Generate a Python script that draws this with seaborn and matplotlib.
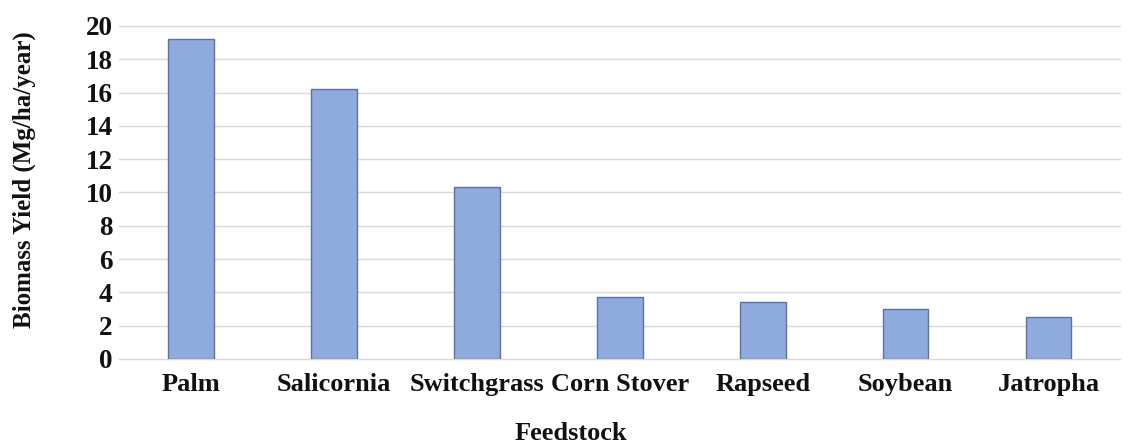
import matplotlib
matplotlib.use("Agg")
import matplotlib.pyplot as plt
import seaborn as sns
import pandas as pd

# Feedstock biomass yields (Mg/ha/year)
feedstocks = ["Palm", "Salicornia", "Switchgrass", "Corn Stover", "Rapseed", "Soybean", "Jatropha"]
yields = [19.2, 16.2, 10.3, 3.7, 3.4, 3.0, 2.5]
y_ticks = [0, 2, 4, 6, 8, 10, 12, 14, 16, 18, 20]

df = pd.DataFrame({"Feedstock": feedstocks, "Yield": yields})

sns.set_theme(style="white")
plt.rcParams["font.family"] = ["Liberation Serif", "DejaVu Serif"]

fig = plt.figure(figsize=(11.27, 4.47), dpi=100)
ax = fig.add_axes([0.106, 0.197, 0.8878, 0.745])

sns.barplot(data=df, x="Feedstock", y="Yield", order=feedstocks,
            color="#8FAADC", edgecolor="#5A72A0", linewidth=1.0,
            width=0.32, saturation=1, ax=ax)

ax.set_ylim(0, 20)
ax.set_yticks(y_ticks)
ax.set_axisbelow(True)
ax.yaxis.grid(True, color="#D9D9D9", linewidth=1.0)
ax.xaxis.grid(False)
for gl in ax.get_ygridlines():
    gl.set_clip_on(False)
for s in ax.spines.values():
    s.set_visible(False)

ax.tick_params(axis="y", length=0, pad=5, labelsize=19.5)
ax.tick_params(axis="x", length=0, pad=10, labelsize=19)
for lbl in ax.get_xticklabels() + ax.get_yticklabels():
    lbl.set_fontweight("bold")
    lbl.set_color("#111111")

ax.set_xlabel("Feedstock", fontsize=19, fontweight="bold", color="#111111")
ax.xaxis.set_label_coords(0.451, -0.243)
ax.xaxis.label.set_va("baseline")

ax.set_ylabel("Biomass Yield (Mg/ha/year)", fontsize=18, fontweight="bold", color="#111111")
ax.yaxis.set_label_coords(-0.0955, 0.5375)
ax.yaxis.label.set_va("center")

fig.savefig("out.png", dpi=100, facecolor="white")
